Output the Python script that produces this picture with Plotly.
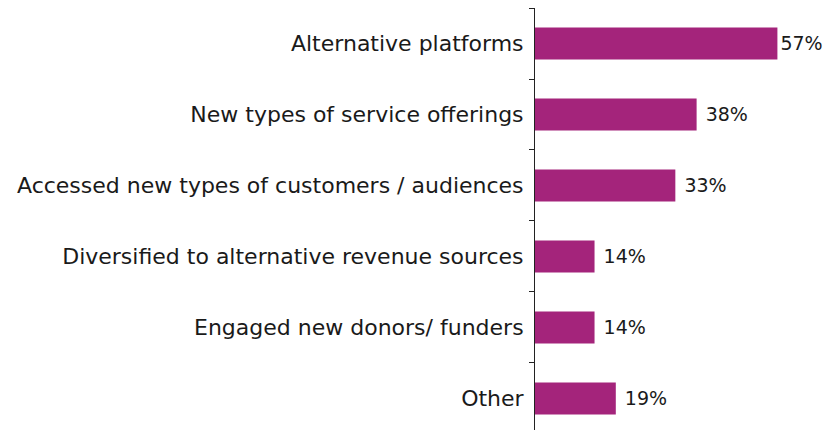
import plotly.graph_objects as go

categories = [
    "Alternative platforms",
    "New types of service offerings",
    "Accessed new types of customers / audiences",
    "Diversified to alternative revenue sources",
    "Engaged new donors/ funders",
    "Other",
]
values = [57, 38, 33, 14, 14, 19]

# small gap before the value label, except where the label would run off the page
labels = [("" if v > 50 else "\u00a0") + f"{v}%" for v in values]

BAR_COLOR = "#A4247B"
FONT = "DejaVu Sans"

fig = go.Figure(
    go.Bar(
        x=values,
        y=categories,
        orientation="h",
        marker=dict(color=BAR_COLOR, line=dict(width=0)),
        width=0.45,
        text=labels,
        textposition="outside",
        cliponaxis=False,
        textfont=dict(family=FONT, size=19, color="#1a1a1a"),
        hoverinfo="skip",
    )
)

# the page body adds an 8px offset, so the figure is 8px smaller than the window
fig.update_layout(
    width=823,
    height=422,
    margin=dict(l=527, r=0, t=0, b=0),
    paper_bgcolor="white",
    plot_bgcolor="white",
    showlegend=False,
    font=dict(family=FONT, size=22, color="#1a1a1a"),
)

fig.update_xaxes(
    range=[0, 69.6],
    visible=False,
    showgrid=False,
    zeroline=False,
)

fig.update_yaxes(
    range=[5.444, -0.5],
    showline=True,
    linecolor="#222222",
    linewidth=1,
    ticks="outside",
    tickson="boundaries",
    ticklen=5,
    tickcolor="#222222",
    showgrid=False,
    ticklabelstandoff=6,
    tickfont=dict(family=FONT, size=22, color="#1a1a1a"),
)

fig.write_html("out.html")
